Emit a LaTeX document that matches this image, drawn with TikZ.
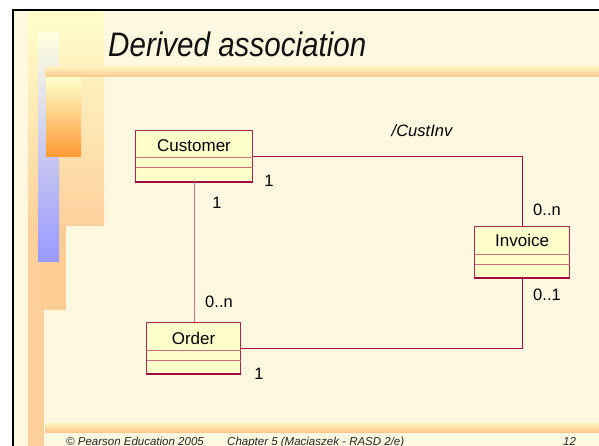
\documentclass[tikz,border=0pt]{standalone}
\usepackage{fontspec}
\setmainfont{Liberation Sans}
\usetikzlibrary{calc}
\definecolor{cream}{HTML}{FEF8E0}
\definecolor{paleyel}{HTML}{FFFFCC}
\definecolor{peach}{HTML}{FFD09C}
\definecolor{lav}{HTML}{9999FF}
\definecolor{orng}{HTML}{FF9933}
\definecolor{boxfill}{HTML}{FFFFCC}
\definecolor{boxline}{HTML}{A8284C}
\definecolor{divline}{HTML}{C87080}
\definecolor{linkdark}{HTML}{A01040}
\definecolor{linklight}{HTML}{CC7484}
\begin{document}
\begin{tikzpicture}[x=1pt,y=-1pt,
  umlbox/.style={draw=boxline, fill=boxfill, line width=1.1pt,
    minimum height=51pt, inner sep=0pt, anchor=north west},
  classname/.style={font=\fontsize{17}{20}\selectfont, anchor=base, inner sep=0pt},
  mult/.style={font=\fontsize{16.5}{19}\selectfont, inner sep=0pt},
  divider/.style={draw=divline, line width=1pt},
  link/.style={draw=linkdark, line width=1pt},
  footer/.style={font=\fontsize{11.5}{13}\selectfont\itshape, text=black!85, anchor=base west, inner sep=0pt}]
\useasboundingbox (0,0) rectangle (599,446);

% slide page and frame
\fill[white] (0,0) rectangle (599,446);
\fill[cream] (13,10) rectangle (599,446);

% left-hand decorative bars
\shade[top color=paleyel, bottom color=peach] (28,11) rectangle (44,230);
\fill[peach] (28,230) rectangle (44,446);
\fill[peach!95!orange] (41,200) rectangle (66,310);
\shade[top color=paleyel, bottom color=peach] (33,11) rectangle (104,226);
\shade[top color=paleyel!60!white, bottom color=lav] (38,33) rectangle (59,261);
\shade[top color=paleyel, bottom color=orng] (46,77) rectangle (81,157);

% horizontal rules under the title and above the footer
\shade[top color=paleyel!70!peach, bottom color=peach!90!orange] (45,67) rectangle (599,77);
\shade[top color=paleyel!70!peach, bottom color=peach!90!orange] (45,423) rectangle (599,432);

\draw[black, line width=2pt] (13,446) -- (13,10) -- (599,10);

% title
\node[anchor=base west, inner sep=0pt, text=black!93] (title) at (108,57)
  {\scalebox{0.87}[1]{\fontsize{34}{40}\selectfont\itshape Derived association}};

% classes
\node[umlbox, minimum width=117pt] (cust) at (135,130) {};
\node[umlbox, minimum width=95pt] (inv) at (474,226) {};
\node[umlbox, minimum width=94pt] (ord) at (146,322) {};

\foreach \c in {cust,inv,ord}{
  \draw[divider] ($(\c.north west)+(0.6,28)$) -- ($(\c.north east)+(-0.6,28)$);
  \draw[divider] ($(\c.north west)+(0.6,38)$) -- ($(\c.north east)+(-0.6,38)$);
  \draw[draw=linkdark, line width=1.3pt] (\c.south west) -- (\c.south east);
}

\node[classname] (custname) at ($(cust.north)+(0,22)$) {Customer};
\node[classname] (invname) at ($(inv.north)+(0,21)$) {Invoice};
\node[classname] (ordname) at ($(ord.north)+(0,22)$) {Order};

% associations
\draw[link] (cust.east) -| (inv.north);
\draw[link, draw=linklight] (cust.south) -- (cust.south |- ord.north);
\draw[link] (inv.south) |- (ord.east);

% derived association name and multiplicities
\node[mult, font=\fontsize{16.5}{19}\selectfont\itshape] (dname) at (422,131) {/CustInv};
\node[mult] (m1) at (269,181) {1};
\node[mult] (m2) at (217,203) {1};
\node[mult] (m3) at (219,302) {0..n};
\node[mult] (m4) at (259,374) {1};
\node[mult] (m5) at (547,210) {0..n};
\node[mult] (m6) at (547,295) {0..1};

% footer
\node[footer] (f1) at (66,445) {© Pearson Education 2005};
\node[footer] (f2) at (227,445) {Chapter 5 (Maciaszek - RASD 2/e)};
\node[footer] (f3) at (563,445) {12};
\end{tikzpicture}
\end{document}
